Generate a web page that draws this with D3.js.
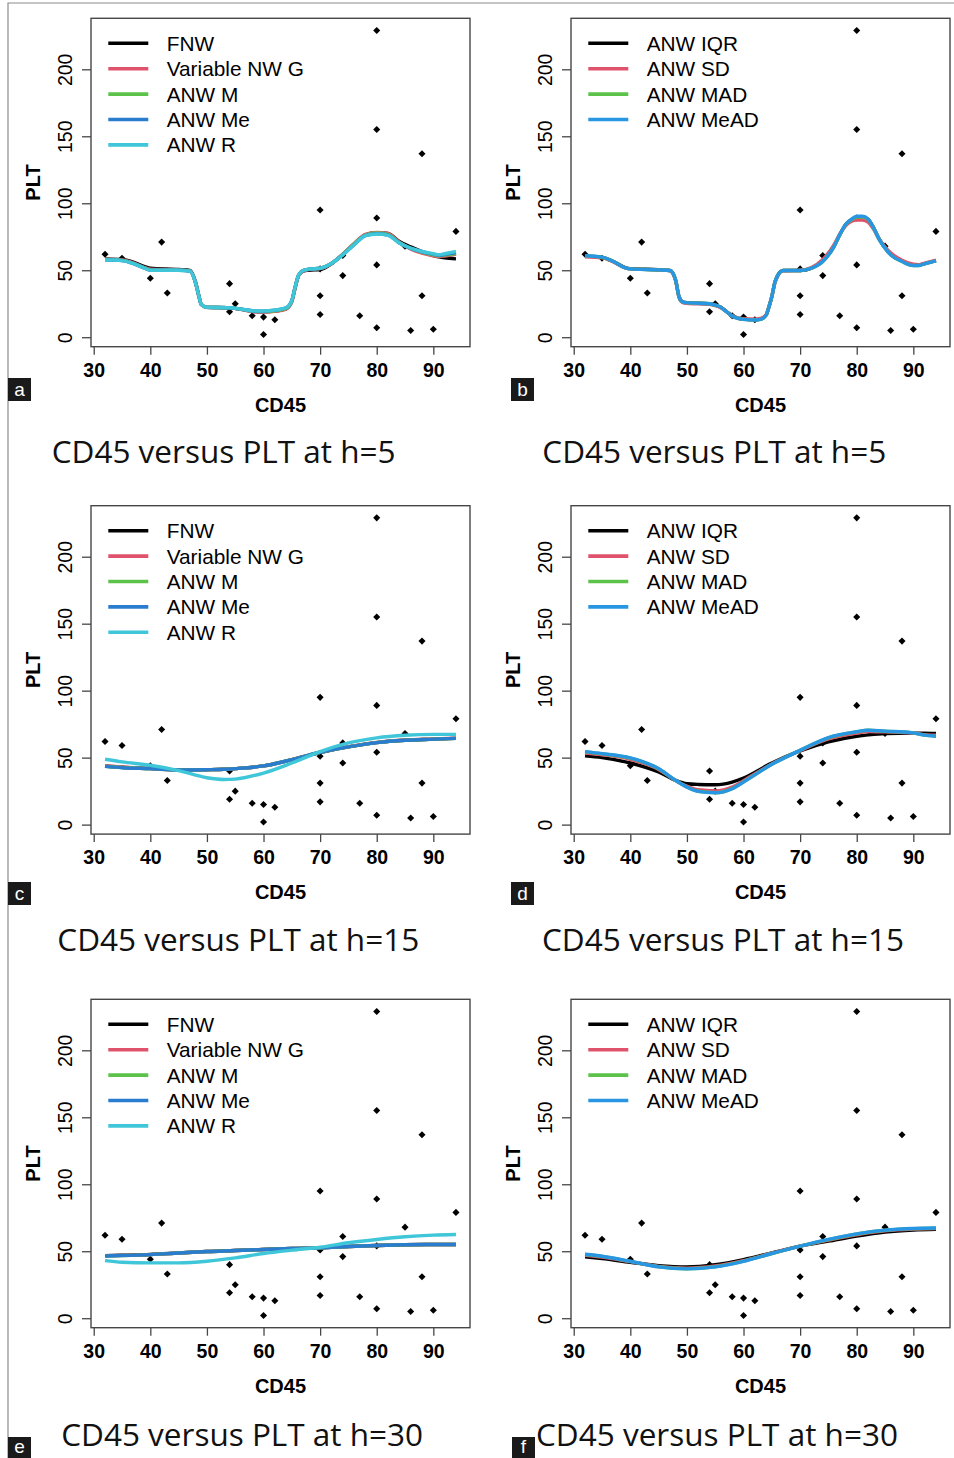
<!DOCTYPE html>
<html>
<head>
<meta charset="utf-8">
<script src="https://cdn.jsdelivr.net/npm/d3@7"></script>
<style>
  body { margin: 0; background: #fff; }
</style>
</head>
<body>
<div data-output></div>
<script>
// ---- data ----
const cd45 = [32, 35, 40, 42, 43, 54, 54, 55, 58, 60, 60, 62, 70, 70, 70, 70, 74, 74, 77, 80, 80, 80, 80, 80, 85, 86, 88, 88, 90, 94];
const plt  = [62, 59, 44, 71, 33, 40, 19, 25, 16, 15,  2, 13, 95, 51, 31, 17, 61, 46, 16, 229, 155, 89, 54, 7, 68, 5, 137, 31, 6, 79];

const xTicks = [30, 40, 50, 60, 70, 80, 90];
const yTicks = [0, 50, 100, 150, 200];

const namesLeft = ['FNW', 'Variable NW G', 'ANW M', 'ANW Me', 'ANW R'];
const namesRight = ['ANW IQR', 'ANW SD', 'ANW MAD', 'ANW MeAD'];

// h = 5, left panel
const gridA = [32, 35, 37, 39, 40, 45, 47, 48, 48.6, 49, 50, 54, 56, 58, 60, 62, 64, 65, 65.6, 66.2, 67, 68, 70, 72, 74, 76, 78, 80, 82, 84, 86, 88, 90, 91, 92, 94];
const fnwA  = [58.5, 58, 56, 52.8, 51.5, 50.5, 49.8, 41, 30.5, 24.5, 22.3, 22, 20.8, 19.3, 19, 19.5, 21.5, 27, 37.2, 46, 49.3, 50, 50.5, 54.8, 61.8, 69.5, 76.5, 78, 77.5, 71.5, 67.5, 64, 61, 60, 59.3, 58.5];
const varGA = [58.3, 57.6, 55.5, 52, 50.8, 50.2, 49.5, 40.5, 30.2, 24.3, 22.2, 22, 20.8, 19.2, 18.8, 19.3, 21, 26.5, 37, 46, 49.5, 50.5, 51.2, 55, 62, 70, 76.8, 78.3, 77.5, 71, 65.8, 62.8, 60.8, 60.2, 60.5, 62];
const anwMA = [58, 57.4, 55.2, 51.8, 50.3, 50.1, 49.5, 40.5, 30.3, 24.5, 22.3, 22, 21, 19.6, 19.2, 19.8, 21.5, 27, 37.5, 46.3, 49.8, 50.8, 51.5, 55, 61.8, 69.5, 76.3, 77.8, 76.8, 70.5, 66.2, 63.5, 61.5, 60.8, 61.3, 62.5];
const anwMeA = [57.8, 57.2, 55, 51.5, 50, 50, 49.3, 40.5, 30.3, 24.5, 22.3, 22, 21, 19.8, 19.4, 20.2, 22, 27.5, 37.8, 46.5, 49.8, 50.8, 51.5, 55, 61.5, 69, 75.8, 77.2, 76.2, 70.3, 66.3, 63.8, 62, 61.2, 61.8, 63.2];
const anwRA = [57.8, 57.2, 55, 51.5, 50, 50, 49.3, 40.5, 30.3, 24.5, 22.3, 22, 21, 19.8, 19.5, 20.3, 22, 27.5, 37.8, 46.5, 49.8, 50.8, 51.5, 55, 61.5, 69, 75.8, 77, 76, 70.3, 66.5, 64, 62.3, 61.5, 62.3, 64];

// h = 5, right panel
const gridB = [32, 35, 37, 39, 40, 45, 47, 48, 48.6, 49.2, 50, 54, 55, 56, 57, 58, 59, 60, 62, 63, 64, 64.5, 65, 65.5, 66, 67, 70, 72, 74, 76, 77, 78, 79, 80, 81, 82, 83, 84, 85, 86, 88, 90, 91, 92, 94];
const iqrB  = [60.5, 59.6, 56.5, 52.2, 51.2, 50.4, 49.8, 42.5, 30.3, 26.5, 25.8, 25, 24, 22.3, 19.2, 16, 14.3, 13.5, 13, 13.5, 16.5, 22.8, 30.3, 40.3, 45.8, 49.8, 49.8, 51.6, 56.8, 68, 76.5, 83.8, 87.5, 89.8, 89.8, 88, 81.5, 73, 66.8, 62, 57, 54, 53.8, 55, 57.2];
const sdB   = [60, 59.3, 56.2, 52, 51, 50.3, 49.6, 42.5, 30, 26, 25.3, 24.5, 23.6, 22, 19, 16, 14.3, 13.8, 13.5, 14, 17, 23, 30.3, 40, 45.5, 49.5, 50, 52, 58, 69.2, 77, 83, 86.3, 87.5, 87.5, 86, 80.5, 73, 67.5, 63, 57.5, 54.5, 54.2, 55.3, 57.5];
const madB  = [60.7, 59.7, 56.5, 52, 51, 50.3, 49.8, 42.8, 30.3, 26.5, 25.8, 25, 24, 22.3, 19, 15.8, 14, 13.3, 12.8, 13.3, 16.5, 22.8, 30.3, 40.3, 45.8, 49.8, 49.8, 51.5, 56.5, 67.8, 76.3, 83.8, 87.5, 89.7, 89.7, 88, 81.3, 72.8, 66.5, 61.5, 56.5, 53.5, 53.5, 54.8, 57];
const meadB = [60.8, 59.8, 56.5, 52, 51, 50.3, 49.8, 42.8, 30.3, 26.5, 25.8, 25, 24, 22.3, 19, 15.8, 14, 13.3, 12.8, 13.3, 16.5, 22.8, 30.3, 40.3, 45.8, 49.8, 49.8, 51.5, 56.5, 67.8, 76.5, 84, 87.8, 90.3, 90.3, 88.3, 81.5, 72.8, 66.5, 61.5, 56.5, 53.5, 53.5, 54.8, 57];

// h = 15, left panel
const gridC = [32, 35, 40, 45, 50, 53, 55, 60, 65, 70, 75, 80, 85, 90, 94];
const fnwC  = [43.8, 42.8, 41.8, 40.8, 41, 41.3, 41.8, 43.8, 48.5, 53.8, 58, 61.2, 63, 63.8, 64.4];
const varGC = [44, 43, 42, 40.8, 41, 41.3, 41.8, 43.8, 48.5, 54, 58.2, 61.4, 63.2, 64, 64.6];
const anwMC = [43.6, 42.6, 41.8, 40.8, 41, 41.3, 41.8, 43.8, 48.5, 54, 58, 61.2, 63, 63.8, 64.4];
const anwMeC = [43.5, 42.5, 41.8, 40.8, 41, 41.3, 41.8, 43.8, 48.5, 54, 58, 61.2, 63, 63.8, 64.4];
const anwRC = [48.8, 46.8, 44.3, 40.3, 35, 33.7, 34, 38.5, 46, 54.5, 61, 64.8, 66.7, 67.4, 67.4];

// h = 15, right panel
const gridD = [32, 35, 40, 45, 48, 50, 52, 55, 58, 60, 65, 70, 75, 80, 82, 85, 90, 92, 94];
const iqrD  = [51.3, 50, 46, 39.3, 33, 30.5, 30, 29.8, 31.8, 34.8, 46, 55, 61.8, 66, 67, 68, 68.3, 68.2, 68];
const sdD   = [53.5, 52.2, 48.8, 41.2, 33, 28.7, 26, 25.2, 28, 32.8, 45.3, 55.3, 64, 68.3, 69.5, 69.2, 68.4, 67.2, 66.8];
const madD  = [54.3, 52.8, 49.6, 41.7, 33, 28.1, 24.9, 23.9, 26.9, 31.9, 45, 55.5, 64.8, 69.2, 70.4, 69.7, 68.5, 66.8, 66];
const meadD = [54.5, 53, 49.8, 41.8, 33, 28, 24.8, 23.8, 26.8, 31.8, 45, 55.5, 65, 69.3, 70.5, 69.8, 68.5, 66.8, 66];

// h = 30, left panel
const gridE = [32, 35, 40, 45, 50, 55, 60, 65, 70, 75, 80, 85, 90, 94];
const fnwE  = [46.7, 47, 47.6, 48.7, 49.8, 50.5, 51.3, 52, 52.5, 53.5, 54.3, 54.8, 55, 55];
const varGE = [46.6, 46.9, 47.5, 48.7, 49.8, 50.5, 51.3, 52, 52.5, 53.5, 54.3, 54.8, 55, 55];
const anwME = [46.5, 46.8, 47.5, 48.7, 49.8, 50.5, 51.3, 52, 52.5, 53.5, 54.3, 54.8, 55, 55];
const anwMeE = [46.5, 46.8, 47.5, 48.7, 49.8, 50.5, 51.3, 52, 52.5, 53.5, 54.3, 54.8, 55, 55];
const anwRE = [43, 41.8, 41.3, 41.3, 42.5, 45, 48.3, 50.8, 53, 56.3, 58.8, 60.8, 62, 62.5];

// h = 30, right panel
const gridF = [32, 35, 40, 45, 50, 55, 60, 65, 70, 75, 80, 85, 90, 94];
const iqrF  = [45.8, 44.5, 41.8, 39.3, 38.3, 40, 43.8, 48.8, 53.8, 57.5, 61.3, 64.3, 65.8, 66.3];
const sdF   = [47, 45.6, 42.2, 38.7, 37.4, 39, 43, 48.5, 53.8, 58.3, 62.3, 65.2, 66.5, 66.9];
const madF  = [47.6, 46.2, 42.4, 38.4, 36.9, 38.4, 42.6, 48.3, 53.8, 58.7, 62.9, 65.7, 66.9, 67.2];
const meadF = [47.8, 46.3, 42.5, 38.3, 36.8, 38.3, 42.5, 48.3, 53.8, 58.8, 63, 65.8, 67, 67.3];

const titles = ['CD45 versus PLT at h=5', 'CD45 versus PLT at h=5', 'CD45 versus PLT at h=15', 'CD45 versus PLT at h=15', 'CD45 versus PLT at h=30', 'CD45 versus PLT at h=30'];

// ---- styles / layout ----
const COLORS_LEFT = ['#000000', '#e0526b', '#5cc24a', '#2a7ccf', '#3fc6d8'];
const COLORS_RIGHT = ['#000000', '#e0526b', '#5cc24a', '#2896e2'];

const BOX = { W: 379, H: 328.4 };
const COL_LEFT = [91, 571];

const panels = [
  { tag: 'a', col: 0, top: 18.3, tagX: 8, tagY: 378, tagH: 23, titleX: 51.7, titleY: 462.5, grid: gridA, series: [fnwA, varGA, anwMA, anwMeA, anwRA] },
  { tag: 'b', col: 1, top: 18.3, tagX: 511, tagY: 378, tagH: 23, titleX: 542.3, titleY: 462.5, grid: gridB, series: [iqrB, sdB, madB, meadB] },
  { tag: 'c', col: 0, top: 505.7, tagX: 8, tagY: 882, tagH: 23, titleX: 57.3, titleY: 950.5, grid: gridC, series: [fnwC, varGC, anwMC, anwMeC, anwRC] },
  { tag: 'd', col: 1, top: 505.7, tagX: 511, tagY: 882, tagH: 23, titleX: 542, titleY: 950.5, grid: gridD, series: [iqrD, sdD, madD, meadD] },
  { tag: 'e', col: 0, top: 999.3, tagX: 8, tagY: 1437, tagH: 21, titleX: 61.2, titleY: 1446, grid: gridE, series: [fnwE, varGE, anwME, anwMeE, anwRE] },
  { tag: 'f', col: 1, top: 999.3, tagX: 512, tagY: 1437, tagH: 21, titleX: 536, titleY: 1446, grid: gridF, series: [iqrF, sdF, madF, meadF] }
];

const SANS = '"Liberation Sans", Arial, sans-serif';

const svg = d3.select('[data-output]').append('svg')
  .attr('width', 954)
  .attr('height', 1458)
  .style('display', 'block');

// outer frame, only the top and left edges show
svg.append('path')
  .attr('d', 'M8,1458V3H954')
  .attr('fill', 'none')
  .attr('stroke', '#8c8c8c')
  .attr('stroke-width', 1.2);

// R-style axis ranges: data extent padded by 4%
const pad = ([a, b]) => [a - (b - a) * 0.04, b + (b - a) * 0.04];
const x = d3.scaleLinear().domain(pad(d3.extent(cd45))).range([0, BOX.W]);
const y = d3.scaleLinear().domain(pad(d3.extent(plt))).range([BOX.H, 0]);

const valueLine = d3.line()
  .x(d => x(d[0]))
  .y(d => y(d[1]))
  .curve(d3.curveMonotoneX);

panels.forEach((p, i) => {
  const left = COL_LEFT[p.col];
  const colors = p.col === 0 ? COLORS_LEFT : COLORS_RIGHT;
  const names = p.col === 0 ? namesLeft : namesRight;

  const g = svg.append('g').attr('transform', `translate(${left}, ${p.top})`);

  // points (pch 18 style diamonds)
  g.append('g').selectAll('path')
    .data(d3.zip(cd45, plt))
    .join('path')
    .attr('transform', d => `translate(${x(d[0])}, ${y(d[1])}) rotate(45)`)
    .attr('d', d3.symbol(d3.symbolSquare, 25))
    .attr('fill', '#000');

  // smoothers
  p.series.forEach((vals, k) => {
    g.append('path')
      .datum(d3.zip(p.grid, vals))
      .attr('fill', 'none')
      .attr('stroke', colors[k])
      .attr('stroke-width', 3.4)
      .attr('stroke-linejoin', 'round')
      .attr('d', valueLine);
  });

  // box
  g.append('rect')
    .attr('width', BOX.W)
    .attr('height', BOX.H)
    .attr('fill', 'none')
    .attr('stroke', '#474747')
    .attr('stroke-width', 1.4);

  // x axis
  const xa = g.append('g')
    .attr('transform', `translate(0, ${BOX.H})`)
    .call(d3.axisBottom(x).tickValues(xTicks).tickSize(8).tickPadding(8));
  xa.select('.domain').remove();
  xa.selectAll('line').attr('stroke', '#474747').attr('stroke-width', 1.3);
  xa.selectAll('text')
    .attr('fill', '#000')
    .attr('font-family', SANS)
    .attr('font-size', 19.5)
    .attr('font-weight', 'bold');

  // y axis, labels turned like R's default las=0
  const ya = g.append('g')
    .call(d3.axisLeft(y).tickValues(yTicks).tickSize(9));
  ya.select('.domain').remove();
  ya.selectAll('line').attr('stroke', '#474747').attr('stroke-width', 1.3);
  ya.selectAll('text')
    .attr('x', null)
    .attr('dy', null)
    .attr('text-anchor', 'middle')
    .attr('transform', 'translate(-19.5, 0) rotate(-90)')
    .attr('fill', '#000')
    .attr('font-family', SANS)
    .attr('font-size', 19.5);

  // axis titles
  g.append('text')
    .attr('x', BOX.W / 2)
    .attr('y', BOX.H + 65)
    .attr('text-anchor', 'middle')
    .attr('font-family', SANS)
    .attr('font-size', 20)
    .attr('font-weight', 'bold')
    .text('CD45');

  g.append('text')
    .attr('transform', `translate(-51, ${BOX.H / 2}) rotate(-90)`)
    .attr('text-anchor', 'middle')
    .attr('font-family', SANS)
    .attr('font-size', 20)
    .attr('font-weight', 'bold')
    .text('PLT');

  // legend (no frame)
  const leg = g.append('g').selectAll('g')
    .data(names)
    .join('g')
    .attr('transform', (d, k) => `translate(0, ${25 + k * 25.4})`);
  leg.append('line')
    .attr('x1', 17.3).attr('x2', 57.3)
    .attr('stroke', (d, k) => colors[k])
    .attr('stroke-width', 3.6);
  leg.append('text')
    .attr('x', 75.7)
    .attr('dy', '0.36em')
    .attr('font-family', SANS)
    .attr('font-size', 20.8)
    .text(d => d);

  // panel title under the plot
  svg.append('text')
    .attr('x', p.titleX)
    .attr('y', p.titleY)
    .attr('font-family', '"Open Sans", sans-serif')
    .attr('font-size', 31.5)
    .attr('fill', '#111')
    .text(titles[i]);

  // letter tag
  svg.append('rect')
    .attr('x', p.tagX).attr('y', p.tagY)
    .attr('width', 23).attr('height', p.tagH)
    .attr('fill', '#1a1a1a');
  svg.append('text')
    .attr('x', p.tagX + 11.5)
    .attr('y', p.tagY + p.tagH - 5)
    .attr('text-anchor', 'middle')
    .attr('font-family', SANS)
    .attr('font-size', 19)
    .attr('fill', '#fff')
    .text(p.tag);
});
</script>
</body>
</html>
